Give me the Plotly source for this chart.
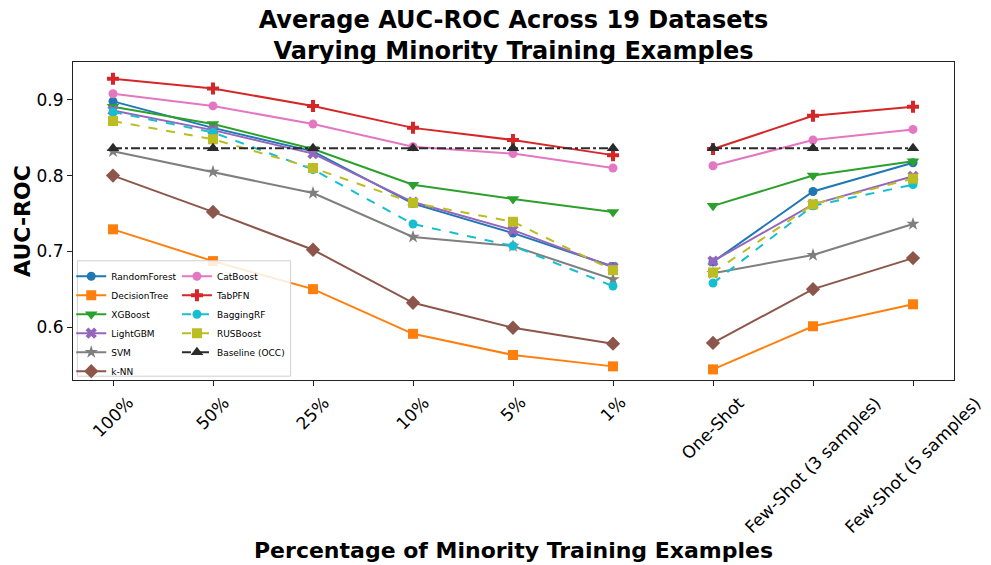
import plotly.graph_objects as go

categories = ["100%", "50%", "25%", "10%", "5%", "1%", "One-Shot",
              "Few-Shot (3 samples)", "Few-Shot (5 samples)"]

random_forest = [0.898, 0.863, 0.832, 0.763, 0.724, 0.680, 0.686, 0.779, 0.817]
decision_tree = [0.729, 0.687, 0.650, 0.591, 0.563, 0.548, 0.544, 0.601, 0.630]
xgboost      = [0.891, 0.868, 0.835, 0.788, 0.769, 0.752, 0.760, 0.800, 0.819]
lightgbm     = [0.886, 0.860, 0.829, 0.765, 0.728, 0.679, 0.687, 0.762, 0.799]
svm          = [0.832, 0.805, 0.777, 0.719, 0.707, 0.663, 0.671, 0.695, 0.736]
knn          = [0.800, 0.752, 0.702, 0.632, 0.599, 0.578, 0.579, 0.650, 0.691]
catboost     = [0.908, 0.892, 0.868, 0.838, 0.829, 0.810, 0.813, 0.847, 0.861]
tabpfn       = [0.928, 0.915, 0.892, 0.863, 0.847, 0.827, 0.835, 0.879, 0.891]
bagging_rf   = [0.884, 0.857, 0.808, 0.736, 0.707, 0.654, 0.658, 0.760, 0.788]
rusboost     = [0.872, 0.848, 0.810, 0.764, 0.739, 0.675, 0.672, 0.762, 0.796]
baseline     = [0.836, 0.836, 0.836, 0.836, 0.836, 0.836, 0.836, 0.836, 0.836]

# (name, values, colour, marker, size, dash, legend)
series = [
    ("RandomForest", random_forest, "#1f77b4", "circle", 9, "solid", "legend"),
    ("DecisionTree", decision_tree, "#ff7f0e", "square", 10, "solid", "legend"),
    ("XGBoost", xgboost, "#2ca02c", "triangle-down", 11, "solid", "legend"),
    ("LightGBM", lightgbm, "#9467bd", "x", 10, "solid", "legend"),
    ("SVM", svm, "#7f7f7f", "star", 10, "solid", "legend"),
    ("k-NN", knn, "#8c564b", "diamond", 11, "solid", "legend"),
    ("CatBoost", catboost, "#e377c2", "circle", 9, "solid", "legend2"),
    ("TabPFN", tabpfn, "#d62728", "cross", 10, "solid", "legend2"),
    ("BaggingRF", bagging_rf, "#17becf", "circle", 9, "dash", "legend2"),
    ("RUSBoost", rusboost, "#bcbd22", "square", 10, "dash", "legend2"),
    ("Baseline (OCC)", baseline, "#2b2b2b", "triangle-up", 11, "dashdot", "legend2"),
]

split = 6  # lines are broken between "1%" and "One-Shot"

fig = go.Figure()
for name, vals, color, sym, size, dash, leg in series:
    xs = categories[:split] + [None] + categories[split:]
    ys = vals[:split] + [None] + vals[split:]
    fig.add_trace(go.Scatter(
        x=xs, y=ys, name=name, mode="lines+markers",
        line=dict(color=color, width=2, dash=dash),
        marker=dict(symbol=sym, size=size, color=color, line=dict(width=0)),
        connectgaps=False, legend=leg,
    ))

font_family = "DejaVu Sans"

annotations = []
for c in categories:
    annotations.append(dict(
        x=c, xref="x", y=0, yref="paper", yshift=-10,
        text=c, showarrow=False, textangle=-45,
        xanchor="center", yanchor="top",
        font=dict(size=17, color="#000000", family=font_family)))

annotations.append(dict(
    x=0.5, xref="paper", y=-0.535, yref="paper",
    text="<b>Percentage of Minority Training Examples</b>",
    showarrow=False, xanchor="center", yanchor="middle",
    font=dict(size=22, color="#000000", family=font_family)))
annotations.append(dict(
    x=-0.058, xref="paper", y=0.5, yref="paper",
    text="<b>AUC-ROC</b>", textangle=-90,
    showarrow=False, xanchor="center", yanchor="middle",
    font=dict(size=22, color="#000000", family=font_family)))

fig.update_layout(
    width=991, height=565, autosize=False,
    margin=dict(l=73, r=37, t=62, b=185),
    paper_bgcolor="white", plot_bgcolor="white",
    font=dict(family=font_family, color="#000000"),
    title=dict(
        text="<b>Average AUC-ROC Across 19 Datasets<br>Varying Minority Training Examples</b>",
        x=0.5, xref="paper", y=0.95, yref="container", yanchor="top",
        font=dict(size=24, color="#000000", family=font_family)),
    xaxis=dict(
        type="category", categoryorder="array", categoryarray=categories,
        range=[-0.4, 8.41], showticklabels=False,
        ticks="outside", ticklen=5, tickcolor="#222222",
        showline=True, linecolor="#222222", linewidth=1, mirror=True,
        showgrid=False, zeroline=False),
    yaxis=dict(
        range=[0.530, 0.950], tickvals=[0.6, 0.7, 0.8, 0.9],
        ticktext=["0.6", "0.7", "0.8", "0.9"],
        ticks="outside", ticklen=5, tickcolor="#222222",
        tickfont=dict(size=17, color="#000000"),
        showline=True, linecolor="#222222", linewidth=1, mirror=True,
        showgrid=False, zeroline=False),
    legend=dict(
        x=-0.002, y=0.372, xanchor="left", yanchor="top",
        bgcolor="rgba(0,0,0,0)", borderwidth=0,
        font=dict(size=9, color="#000000"), itemwidth=30,
        tracegroupgap=0),
    legend2=dict(
        x=0.118, y=0.372, xanchor="left", yanchor="top",
        bgcolor="rgba(0,0,0,0)", borderwidth=0,
        font=dict(size=9, color="#000000"), itemwidth=30,
        tracegroupgap=0),
    shapes=[dict(
        type="rect", xref="paper", yref="paper",
        x0=0.005, x1=0.247, y0=0.012, y1=0.375,
        line=dict(color="#d0d0d0", width=1), fillcolor="rgba(255,255,255,0.85)",
        layer="above")],
    annotations=annotations,
)

fig.write_html("out.html", config={"displayModeBar": False},
               post_script="document.body.style.margin='0';")
